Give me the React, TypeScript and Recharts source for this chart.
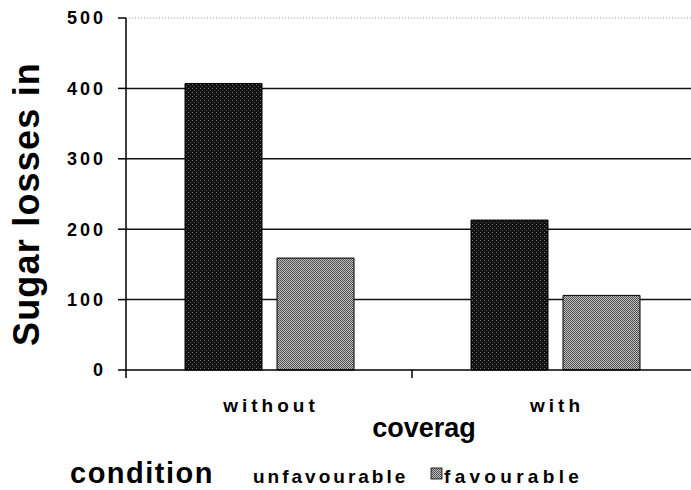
import React from 'react'
import { BarChart, Bar, XAxis, YAxis, CartesianGrid } from 'recharts'

const categories = ['without', 'with']
const unfavourable = [407, 213]
const favourable = [159, 106]
const yTicks = [0, 100, 200, 300, 400, 500]
const solidGrid = [100, 200, 300, 400]
const dottedGrid = [500]
const legendLabels = ['unfavourable', 'favourable']

const FONT = '"Liberation Sans", Arial, sans-serif'

const data = categories.map((c, i) => ({
  name: c,
  unfavourable: unfavourable[i],
  favourable: favourable[i],
}))

const CHART_W = 698
const CHART_H = 490
const LEFT = 126
const BAND = (CHART_W - LEFT) / categories.length

function CategoryTick(props: any) {
  const { x, y, payload } = props
  const edge = x - BAND / 2
  return (
    <g>
      <line x1={edge} y1={y} x2={edge} y2={y + 8} stroke="#000" strokeWidth={1.5} />
      <text
        x={x + 2}
        y={y + 42}
        textAnchor="middle"
        fontFamily={FONT}
        fontWeight="bold"
        fontSize={19}
        letterSpacing={4}
        fill="#000"
      >
        {payload.value}
      </text>
    </g>
  )
}

export default function App() {
  return (
    <div style={{ position: 'absolute', left: 0, top: 0, width: 691, height: 490, overflow: 'hidden', background: '#fff' }}>
      <BarChart
        width={CHART_W}
        height={CHART_H}
        data={data}
        margin={{ top: 18, right: 0, bottom: 60, left: 0 }}
        barSize={77}
        barGap={15}
      >
        <defs>
          <pattern id="darkFill" width="4" height="4" patternUnits="userSpaceOnUse">
            <rect width="4" height="4" fill="#111" />
            <rect x="0" y="0" width="1" height="1" fill="#777" />
            <rect x="2" y="2" width="1" height="1" fill="#555" />
          </pattern>
          <pattern id="lightFill" width="2" height="2" patternUnits="userSpaceOnUse">
            <rect width="2" height="2" fill="#bdbdbd" />
            <rect x="0" y="0" width="1" height="1" fill="#4a4a4a" />
            <rect x="1" y="1" width="1" height="1" fill="#5a5a5a" />
          </pattern>
        </defs>
        <CartesianGrid vertical={false} horizontalValues={solidGrid} stroke="#111" strokeWidth={1.5} />
        <CartesianGrid vertical={false} horizontalValues={dottedGrid} stroke="#999" strokeDasharray="1 2" />
        <XAxis
          dataKey="name"
          axisLine={{ stroke: '#000', strokeWidth: 1.5 }}
          tickLine={false}
          tickSize={0}
          tickMargin={0}
          height={60}
          tick={<CategoryTick />}
          label={{
            value: 'coverag',
            position: 'center',
            dx: 12,
            dy: 27,
            style: { fontFamily: FONT, fontWeight: 'bold', fontSize: 27, fill: '#000' },
          }}
        />
        <YAxis
          domain={[0, 500]}
          ticks={yTicks}
          width={LEFT}
          axisLine={{ stroke: '#000', strokeWidth: 1.5 }}
          tickLine={{ stroke: '#000', strokeWidth: 1.5 }}
          tickSize={8}
          tickMargin={12}
          tick={{ fontFamily: FONT, fontWeight: 'bold', fontSize: 18, letterSpacing: 3, fill: '#000' }}
          label={{
            value: 'Sugar losses in',
            angle: -90,
            position: 'center',
            dx: -37,
            dy: 10,
            style: { fontFamily: FONT, fontWeight: 'bold', fontSize: 36, letterSpacing: 1.2, fill: '#000', textAnchor: 'middle' },
          }}
        />
        <Bar dataKey="unfavourable" fill="url(#darkFill)" stroke="#000" strokeWidth={1} isAnimationActive={false} />
        <Bar dataKey="favourable" fill="url(#lightFill)" stroke="#000" strokeWidth={1} isAnimationActive={false} />
      </BarChart>
      <svg width={691} height={490} style={{ position: 'absolute', left: 0, top: 0, pointerEvents: 'none' }}>
        <defs>
          <pattern id="legendLight" width="2" height="2" patternUnits="userSpaceOnUse">
            <rect width="2" height="2" fill="#bdbdbd" />
            <rect x="0" y="0" width="1" height="1" fill="#4a4a4a" />
            <rect x="1" y="1" width="1" height="1" fill="#5a5a5a" />
          </pattern>
        </defs>
        <text x={70} y={483} fontFamily={FONT} fontWeight="bold" fontSize={29} letterSpacing={1.5} fill="#000">
          condition
        </text>
        <text x={253} y={483} fontFamily={FONT} fontWeight="bold" fontSize={19} letterSpacing={3} fill="#000">
          {legendLabels[0]}
        </text>
        <rect x={431} y={468} width={11} height={11} fill="url(#legendLight)" stroke="#000" strokeWidth={0.8} />
        <text x={444} y={483} fontFamily={FONT} fontWeight="bold" fontSize={19} letterSpacing={4.3} fill="#000">
          {legendLabels[1]}
        </text>
      </svg>
    </div>
  )
}
